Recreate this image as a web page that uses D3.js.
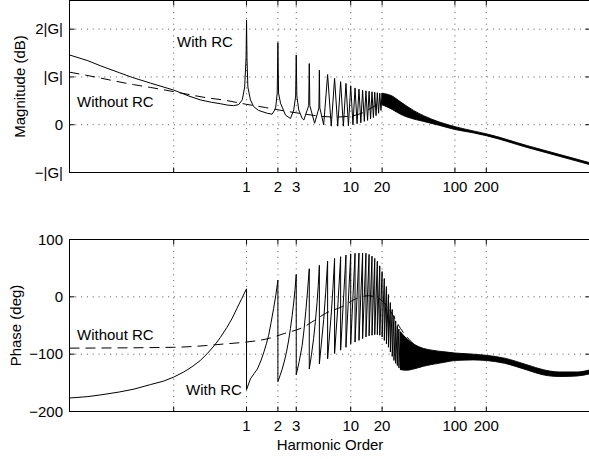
<!DOCTYPE html>
<html>
<head>
<meta charset="utf-8">
<script src="https://cdn.jsdelivr.net/npm/d3@7"></script>
<style>
body { margin: 0; background: #fff; }
svg { display: block; font-family: "Liberation Sans", Arial, Helvetica, sans-serif; }
</style>
</head>
<body>
<svg id="chart" width="589" height="459"></svg>
<script>
// tick values and labels
var xTicks = [0.2, 1, 2, 3, 10, 20, 100, 200];
var xTickLabels = ["", "1", "2", "3", "10", "20", "100", "200"];
var magTicks = [-1, 0, 1, 2];
var magTickLabels = ["\u2212|G|", "0", "|G|", "2|G|"];
var phaseTicks = [-200, -100, 0, 100];
var phaseTickLabels = ["\u2212200", "\u2212100", "0", "100"];

// magnitude, in units of |G|  ([harmonic order, value])
var magNoRC = [[0.02,1.10],[0.037,0.99],[0.053,0.92],[0.082,0.84],[0.12,0.78],[0.24,0.66],[0.4,0.57],
  [0.63,0.51],[0.98,0.43],[1.52,0.36],[2.29,0.29],[3.68,0.22],[5,0.18],[7,0.16],[10,0.18],[13,0.25],
  [16,0.36],[19,0.45],[22,0.48],[26,0.42],[30,0.35],[40,0.2],[50,0.12],[70,0.02],[100,-0.07],
  [200,-0.22],[500,-0.46],[1000,-0.64],[2000,-0.82]];

var magRC = [[0.02,1.46],[0.03,1.34],[0.04,1.23],[0.06,1.09],[0.08,0.99],[0.12,0.87],[0.2,0.725],
  [0.28,0.60],[0.36,0.52],[0.46,0.47],[0.56,0.44],[0.66,0.41],[0.75,0.40],
  [0.84,0.42],[0.91,0.52],[0.96,0.79],[0.99,1.4],[1,2.19],[1.01,1.4],[1.03,0.79],[1.09,0.52],
  [1.17,0.38],[1.3,0.30],[1.58,0.24],[1.76,0.22],[1.9,0.34],[1.97,0.66],[2,1.72],[2.03,0.66],[2.12,0.45],
  [2.37,0.20],[2.64,0.13],[2.84,0.31],[2.96,0.6],[3,1.46],[3.04,0.6],[3.17,0.31],[3.42,0.13],
  [3.55,0.10],[3.95,0.4],[4,1.28],[4.05,0.4],[4.5,0.03],[4.95,0.35],[5,1.14],[5.05,0.35],[5.5,0.0],
  [6,1.05],[6.5,-0.03],[7,0.97],[7.5,-0.03],[8,0.90],[8.5,-0.03],[9,0.865],[9.5,-0.02],[10,0.815],
  [10.5,0.0],[11,0.77],[11.5,0.02],[12,0.745],[12.5,0.04],[13,0.72],[13.5,0.07],[14,0.71],[14.5,0.09],
  [15,0.70],[15.5,0.12],[16,0.69],[16.5,0.15],[17,0.68],[17.5,0.19],[18,0.67],[18.5,0.24],[19,0.66],
  [19.5,0.30],[20,0.66],[20.5,0.42]];

// dense part of the "with RC" magnitude: upper / lower envelope
var magBandH  = [20, 25, 30, 40, 50, 70, 100, 150, 200, 500, 1000, 2000];
var magBandHi = [0.66, 0.60, 0.48, 0.30, 0.19, 0.06, -0.04, -0.13, -0.19, -0.44, -0.62, -0.80];
var magBandLo = [0.42, 0.32, 0.22, 0.12, 0.07, -0.01, -0.10, -0.17, -0.23, -0.48, -0.66, -0.84];

// phase, degrees
var phaseNoRC = [[0.02,-89.5],[0.2,-88],[0.41,-85],[0.63,-82],[0.98,-79],[1.6,-73],[2.3,-64],[3.5,-53],
  [4.5,-41],[5.7,-29],[8.3,-17],[11.3,-3],[14.8,2],[17,0],[20,-7],[25,-30],[30,-55],[40,-82],
  [60,-98],[100,-104],[200,-106],[300,-110],[500,-122],[1000,-134],[2000,-130]];

var phaseRC = [[0.02,-176.5],[0.03,-174],[0.04,-171],[0.06,-166],[0.083,-161],[0.12,-153],[0.16,-147],
  [0.2,-140],[0.25,-131],[0.3,-122],[0.36,-111],[0.42,-99],[0.49,-85],[0.56,-71],[0.65,-53],
  [0.73,-37],[0.81,-20],[0.9,-3],[1,14],[1,-162],[1.09,-143],[1.18,-134],[1.27,-126],[1.37,-112],
  [1.47,-96],[1.55,-82],[1.63,-67],[1.72,-45],[1.82,-20],[1.91,3],[2,29],
  [2,-148],[2.1,-137],[2.2,-126],[2.31,-112],[2.42,-96],[2.53,-77],[2.64,-55],[2.74,-33],[2.84,-9],
  [2.92,13],[3,39],[3,-136],[3.2,-113],[3.42,-85],[3.56,-58],[3.7,-26],[3.85,10],[4,49],
  [4,-126],[4.2,-101],[4.4,-73],[4.58,-43],[4.75,-10],[4.88,20],[5,55],
  [5,-117],[5.5,-40],[5.75,8],[6,62],[6,-108],[6.5,-30],[6.75,15],[7,67],
  [7,-99],[7.5,-20],[8,70],[8,-93],[9,73],[9,-88],[10,75],[10,-82],[11,76],[11,-79],[12,76.5],
  [12,-76],[13,76.5],[13,-73],[14,76],[14,-70],[15,74],[15,-68],[16,71],[16,-67],[17,67],
  [17,-66],[18,62],[18,-66],[19,54],[19,-67],[20,44],[20,-70],[21,32],[21,-76],[22,18],
  [22,-82],[23,4],[23,-88],[24,-10],[24,-96],[25,-22],[25,-104],[26,-33],[26,-111],[27,-42],
  [27,-116],[28,-50],[28,-120],[29,-56],[29,-124],[30,-61],[30,-127]];

var phaseBandH  = [30, 35, 40, 50, 60, 80, 100, 150, 200, 300, 500, 700, 1000, 1500, 2000];
var phaseBandHi = [-61, -74, -82, -90, -93, -96, -98, -100, -102, -107, -119, -127, -131, -131, -127];
var phaseBandLo = [-127, -128, -126, -121, -118, -114, -111, -110, -111, -116, -128, -136, -139, -138, -134];

var svg = d3.select("#chart");
var fontSize = "15px";

var x = d3.scaleLog().domain([0.02, 2000]).range([69.5, 590.5]);
var yMag = d3.scaleLinear().domain([-1, 2.6]).range([172.5, 0.5]);
var yPh = d3.scaleLinear().domain([-200, 100]).range([411.5, 239.5]);

function drawPanel(id, y, yTicks, yLabels, yTitle, titleX){
    var x0 = x.range()[0], x1 = x.range()[1];
    var yb = y.range()[0], yt = y.range()[1];
    var g = svg.append("g");

    svg.append("clipPath").attr("id", id)
        .append("rect").attr("x", x0).attr("y", yt).attr("width", x1 - x0).attr("height", yb - yt);

    // dotted grid
    xTicks.forEach(function(t){
        g.append("line")
            .attr("x1", x(t)).attr("x2", x(t)).attr("y1", yt).attr("y2", yb)
            .attr("stroke", "#555").attr("stroke-width", 1).attr("stroke-dasharray", "1,4.8");
    });
    yTicks.forEach(function(t){
        g.append("line")
            .attr("x1", x0).attr("x2", x1).attr("y1", y(t)).attr("y2", y(t))
            .attr("stroke", "#555").attr("stroke-width", 1).attr("stroke-dasharray", "1,4.8");
    });

    // tick marks on all four sides
    xTicks.forEach(function(t, i){
        g.append("line").attr("x1", x(t)).attr("x2", x(t)).attr("y1", yb).attr("y2", yb - 5)
            .attr("stroke", "#000");
        g.append("line").attr("x1", x(t)).attr("x2", x(t)).attr("y1", yt).attr("y2", yt + 5)
            .attr("stroke", "#000");
        g.append("text")
            .attr("x", x(t)).attr("y", yb + 19.5)
            .attr("text-anchor", "middle").style("font-size", fontSize)
            .text(xTickLabels[i]);
    });
    yTicks.forEach(function(t, i){
        g.append("line").attr("x1", x0).attr("x2", x0 + 5).attr("y1", y(t)).attr("y2", y(t))
            .attr("stroke", "#000");
        g.append("line").attr("x1", x1).attr("x2", x1 - 5).attr("y1", y(t)).attr("y2", y(t))
            .attr("stroke", "#000");
        g.append("text")
            .attr("x", 63).attr("y", y(t) + 5.3)
            .attr("text-anchor", "end").style("font-size", fontSize)
            .text(yLabels[i]);
    });

    g.append("text")
        .attr("transform", "translate(" + titleX + "," + ((yt + yb) / 2) + ") rotate(-90)")
        .attr("text-anchor", "middle").style("font-size", fontSize)
        .text(yTitle);

    return {g: g, clip: "url(#" + id + ")"};
}

function drawCurves(axes, y, noRC, rc, bandH, bandHi, bandLo){
    var line = d3.line().x(function(d){ return x(d[0]); }).y(function(d){ return y(d[1]); });
    var area = d3.area()
        .x(function(d){ return x(d.h); })
        .y0(function(d){ return y(d.lo); })
        .y1(function(d){ return y(d.hi); })
        .curve(d3.curveMonotoneX);
    var band = bandH.map(function(h, i){ return {h: h, hi: bandHi[i], lo: bandLo[i]}; });

    var c = axes.g.append("g").attr("clip-path", axes.clip);
    c.append("path").datum(band).attr("d", area)
        .attr("fill", "#000").attr("stroke", "#000").attr("stroke-width", 0.9);
    c.append("path").datum(rc).attr("d", line)
        .attr("fill", "none").attr("stroke", "#000").attr("stroke-width", 1);
    c.append("path").datum(noRC).attr("d", line.curve(d3.curveMonotoneX))
        .attr("fill", "none").attr("stroke", "#000").attr("stroke-width", 1)
        .attr("stroke-dasharray", "10,6");
}

function drawBox(y){
    var x0 = x.range()[0], x1 = x.range()[1];
    var yb = y.range()[0], yt = y.range()[1];
    svg.append("rect").attr("x", x0).attr("y", yt).attr("width", x1 - x0).attr("height", yb - yt)
        .attr("fill", "none").attr("stroke", "#000").attr("stroke-width", 1);
}

function label(txt, lx, ly){
    svg.append("text").attr("x", lx).attr("y", ly).style("font-size", fontSize).text(txt);
}

var magAxes = drawPanel("clipMag", yMag, magTicks, magTickLabels, "Magnitude (dB)", 25);
drawCurves(magAxes, yMag, magNoRC, magRC, magBandH, magBandHi, magBandLo);
drawBox(yMag);

var phaseAxes = drawPanel("clipPh", yPh, phaseTicks, phaseTickLabels, "Phase (deg)", 21);
drawCurves(phaseAxes, yPh, phaseNoRC, phaseRC, phaseBandH, phaseBandHi, phaseBandLo);
drawBox(yPh);

svg.append("text").attr("x", (x.range()[0] + x.range()[1]) / 2).attr("y", 450)
    .attr("text-anchor", "middle").style("font-size", fontSize).text("Harmonic Order");

label("With RC", 177, 47);
label("Without RC", 77, 107);
label("Without RC", 77, 340);
label("With RC", 186, 395);
</script>
</body>
</html>
